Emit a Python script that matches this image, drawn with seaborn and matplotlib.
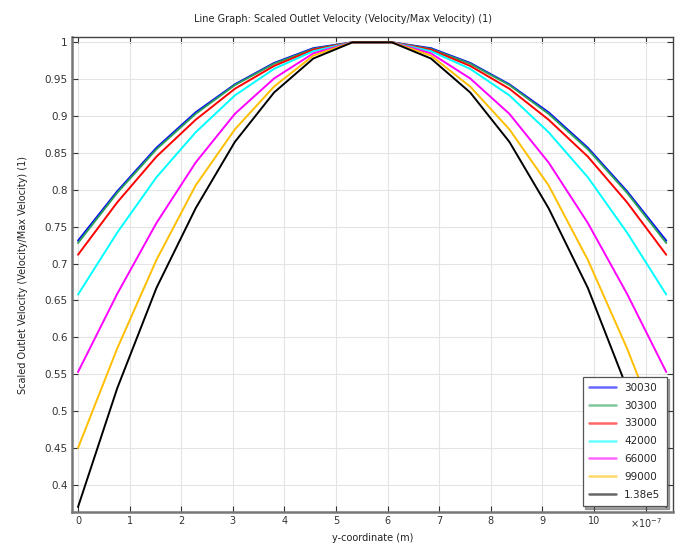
import numpy as np
import pandas as pd
import matplotlib
matplotlib.use("Agg")
import matplotlib.pyplot as plt
import seaborn as sns

# y-coordinate values (units of 1e-7 m)
y_coord = [0.0, 0.76, 1.52, 2.28, 3.04, 3.8, 4.56, 5.32, 6.08, 6.84, 7.6, 8.36, 9.12, 9.88, 10.64, 11.4]

series_names = ["30030", "30300", "33000", "42000", "66000", "99000", "1.38e5"]

v_30030 = [0.731, 0.798, 0.857, 0.905, 0.943, 0.972, 0.992, 1.0, 1.0, 0.992, 0.972, 0.943, 0.905, 0.857, 0.798, 0.731]
v_30300 = [0.728, 0.796, 0.855, 0.903, 0.942, 0.971, 0.991, 1.0, 1.0, 0.991, 0.971, 0.942, 0.903, 0.855, 0.796, 0.728]
v_33000 = [0.712, 0.783, 0.845, 0.895, 0.937, 0.968, 0.990, 1.0, 1.0, 0.990, 0.968, 0.937, 0.895, 0.845, 0.783, 0.712]
v_42000 = [0.658, 0.742, 0.817, 0.878, 0.928, 0.964, 0.988, 1.0, 1.0, 0.988, 0.964, 0.928, 0.878, 0.817, 0.742, 0.658]
v_66000 = [0.553, 0.659, 0.755, 0.837, 0.903, 0.951, 0.985, 1.0, 1.0, 0.985, 0.951, 0.903, 0.837, 0.755, 0.659, 0.553]
v_99000 = [0.450, 0.585, 0.705, 0.806, 0.882, 0.940, 0.982, 1.0, 1.0, 0.982, 0.940, 0.882, 0.806, 0.705, 0.585, 0.450]
v_138e5 = [0.370, 0.531, 0.667, 0.775, 0.865, 0.932, 0.978, 1.0, 1.0, 0.978, 0.932, 0.865, 0.775, 0.667, 0.531, 0.370]

values = [v_30030, v_30300, v_33000, v_42000, v_66000, v_99000, v_138e5]
colors = ["#0000ff", "#2ca05a", "#ff0000", "#00ffff", "#ff00ff", "#ffbf00", "#000000"]

rows = []
for name, vals in zip(series_names, values):
    for x, v in zip(y_coord, vals):
        rows.append({"y": x, "v": v, "series": name})
df = pd.DataFrame(rows)

sns.set_style("whitegrid")
plt.rcParams['font.family'] = ['DejaVu Sans']

fig = plt.figure(figsize=(6.86, 5.46), dpi=100)
ax = fig.add_axes([0.105, 0.062, 0.876, 0.870])

palette = dict(zip(series_names, colors))
sns.lineplot(data=df, x="y", y="v", hue="series", hue_order=series_names,
             palette=palette, linewidth=1.4, ax=ax, legend=True, sort=False)

ax.set_xlim(-0.116, 11.53)
ax.set_ylim(0.363, 1.007)

xt = list(range(0, 12))
ax.set_xticks(xt)
ax.set_xticklabels([str(t) for t in xt[:-1]] + [r"$\times10^{-7}$"], fontsize=7, color="#333333")
yt = np.round(np.arange(0.4, 1.0001, 0.05), 2)
ax.set_yticks(yt)
ax.set_yticklabels([f"{t:g}" for t in yt], fontsize=7.5, color="#333333")

ax.grid(True, color="#e4e4e4", linewidth=0.8)
ax.tick_params(axis="both", which="both", direction="in", length=4, width=0.8,
               top=True, right=True, bottom=True, left=True, color="#333333", pad=3)
for side, sp in ax.spines.items():
    sp.set_visible(True)
    sp.set_color("#444444")
    sp.set_linewidth(1.0)
ax.spines["left"].set_linewidth(1.8)
ax.spines["left"].set_color("#777777")
ax.spines["bottom"].set_linewidth(1.8)
ax.spines["bottom"].set_color("#777777")

ax.set_xlabel("y-coordinate (m)", fontsize=7, color="#222222", labelpad=2)
ax.set_ylabel("Scaled Outlet Velocity (Velocity/Max Velocity) (1)", fontsize=7, color="#222222", labelpad=12)
fig.suptitle("Line Graph: Scaled Outlet Velocity (Velocity/Max Velocity) (1)", fontsize=7, y=0.975, color="#222222")

leg = ax.legend(loc="lower right", fontsize=7.5, frameon=True, fancybox=False, shadow=True,
                borderaxespad=0.6, handlelength=2.6, labelspacing=0.75, borderpad=0.6)
leg.get_frame().set_edgecolor("#555555")
leg.get_frame().set_linewidth(0.9)
for line in leg.get_lines():
    line.set_alpha(0.6)
    line.set_linewidth(1.8)

fig.savefig("out.png", dpi=100)
